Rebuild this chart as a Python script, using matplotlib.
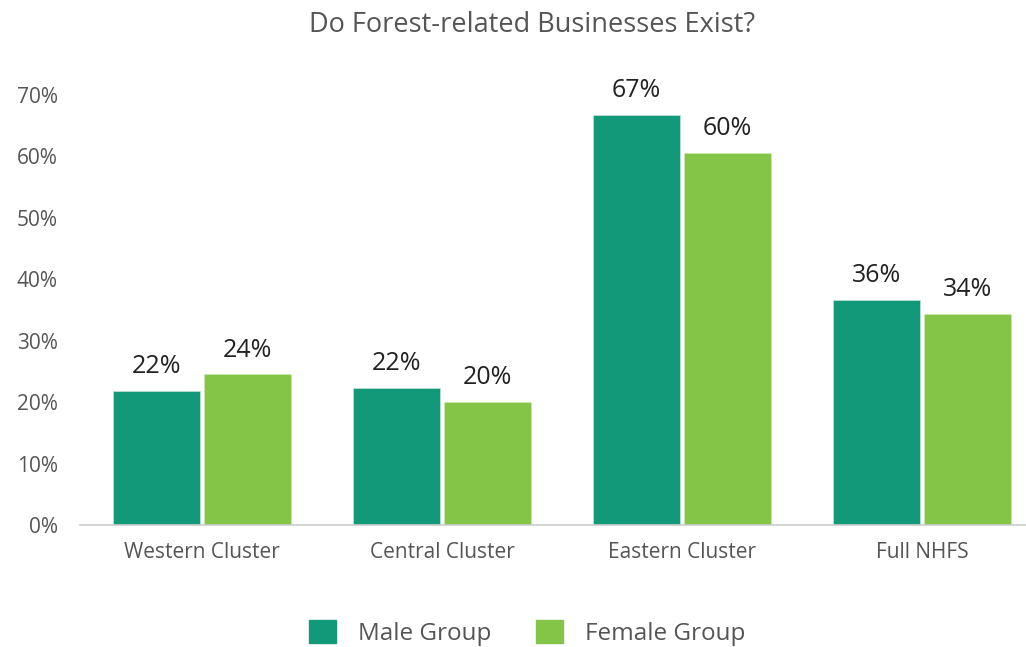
import numpy as np
import matplotlib.pyplot as plt
from matplotlib.patches import Patch

categories = ["Western Cluster", "Central Cluster", "Eastern Cluster", "Full NHFS"]
male = [21.8, 22.3, 66.8, 36.6]
female = [24.5, 20.0, 60.6, 34.4]
male_labels = ["22%", "22%", "67%", "36%"]
female_labels = ["24%", "20%", "60%", "34%"]
yticks = [0, 10, 20, 30, 40, 50, 60, 70]

MALE_COLOR = "#11997a"
FEMALE_COLOR = "#84c447"
TEXT_GRAY = "#555555"

plt.rcParams['font.family'] = ['Open Sans', 'DejaVu Sans']

fig = plt.figure(figsize=(10.26, 6.47), dpi=100)
ax = fig.add_axes([0.078, 0.1886, 0.922, 0.6646])

x = np.arange(len(categories))
w = 0.3625
off = 0.19
b1 = ax.bar(x - off, male, w, color=MALE_COLOR, edgecolor="#b8e0d0", linewidth=0.6, label="Male Group")
b2 = ax.bar(x + off, female, w, color=FEMALE_COLOR, edgecolor="#cde8b0", linewidth=0.6, label="Female Group")

for bars, labels in [(b1, male_labels), (b2, female_labels)]:
    for bar, lab in zip(bars, labels):
        ax.text(bar.get_x() + bar.get_width() / 2, bar.get_height() + 1.9, lab,
                ha="center", va="bottom", fontsize=18, color="#222222", clip_on=False)

ax.set_xlim(-0.508, 3.434)
ax.set_ylim(0, 70)
ax.set_yticks(yticks)
ax.set_yticklabels(["{}%".format(t) for t in yticks], fontsize=15, color=TEXT_GRAY)
ax.set_xticks(x)
ax.set_xticklabels(categories, fontsize=15, color=TEXT_GRAY)
ax.tick_params(axis="both", length=0)
ax.tick_params(axis="y", pad=16)
ax.tick_params(axis="x", pad=12)

for s in ["top", "right", "left"]:
    ax.spines[s].set_visible(False)
ax.spines["bottom"].set_color("#cccccc")
ax.spines["bottom"].set_linewidth(1.2)

fig.text(0.519, 0.962, "Do Forest-related Businesses Exist?", ha="center", va="center",
         fontsize=19.5, color=TEXT_GRAY)

handles = [Patch(color=MALE_COLOR, label="Male Group"), Patch(color=FEMALE_COLOR, label="Female Group")]
fig.legend(handles=handles, loc="center", bbox_to_anchor=(0.514, 0.022), ncol=2, frameon=False,
           fontsize=17.5, labelcolor=TEXT_GRAY, handlelength=1.1, handleheight=1.1,
           columnspacing=1.85, handletextpad=0.9)

fig.savefig("out.png", dpi=100)
